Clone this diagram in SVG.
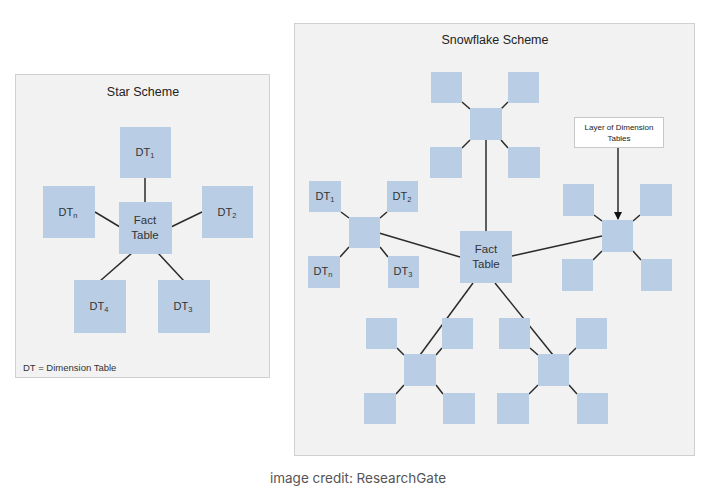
<svg xmlns="http://www.w3.org/2000/svg" width="710" height="502" viewBox="0 0 710 502">
<defs>
<style>
.panel{fill:#f2f2f2;stroke:#d0d0d0;stroke-width:1}
.box{fill:#b9cde5}
.lbl{font-family:"Liberation Sans","Open Sans",sans-serif;font-size:11px;fill:#333;text-anchor:middle}
.fact{font-size:11.5px}
.sub{font-size:7.5px}
.title{font-family:"Liberation Sans","Open Sans",sans-serif;font-size:12.5px;fill:#222;text-anchor:middle}
.cn line{stroke:#2b2b2b;stroke-width:1.5;fill:none}
</style>
<marker id="ah" markerWidth="8" markerHeight="8" refX="7" refY="4" orient="auto" markerUnits="userSpaceOnUse">
<path d="M0,0 L8,4 L0,8 z" fill="#111"/>
</marker>
</defs>
<rect width="710" height="502" fill="#ffffff"/>

<!-- Star scheme panel -->
<g id="star-panel">
<rect class="panel" x="15.5" y="74.5" width="254" height="303"/>
<text class="title" x="143" y="96">Star Scheme</text>
<text x="23" y="371" font-family="'Liberation Sans','Open Sans',sans-serif" font-size="9.5" fill="#333">DT = Dimension Table</text>
</g>

<!-- Snowflake panel -->
<g id="snow-panel">
<rect class="panel" x="294.5" y="23.5" width="400" height="432"/>
<text class="title" x="495" y="44">Snowflake Scheme</text>
</g>

<g class="cn" id="connectors">
<!-- star -->
<line x1="145" y1="178" x2="145" y2="202"/>
<line x1="95" y1="212" x2="120" y2="227"/>
<line x1="171" y1="227" x2="202" y2="212"/>
<line x1="132" y1="253" x2="100" y2="281"/>
<line x1="158" y1="253" x2="184" y2="281"/>
<!-- snowflake main -->
<line x1="486" y1="140" x2="486" y2="231"/>
<line x1="379" y1="233" x2="460" y2="257"/>
<line x1="512" y1="256" x2="602" y2="236"/>
<line x1="473" y1="283" x2="420" y2="355"/>
<line x1="495" y1="283" x2="553" y2="355"/>
<line x1="618" y1="147" x2="618" y2="219" marker-end="url(#ah)"/>
<!-- top cluster -->
<line x1="462" y1="102" x2="470" y2="109"/>
<line x1="508" y1="102" x2="501" y2="109"/>
<line x1="462" y1="148" x2="470" y2="140"/>
<line x1="508" y1="148" x2="501" y2="140"/>
<!-- left cluster -->
<line x1="341" y1="212" x2="349" y2="218"/>
<line x1="387" y1="212" x2="380" y2="218"/>
<line x1="340" y1="257" x2="349" y2="247"/>
<line x1="388" y1="257" x2="380" y2="247"/>
<!-- right cluster -->
<line x1="594" y1="215" x2="602" y2="221"/>
<line x1="640" y1="215" x2="633" y2="221"/>
<line x1="593" y1="260" x2="602" y2="251"/>
<line x1="641" y1="260" x2="633" y2="251"/>
<!-- bottom-left cluster -->
<line x1="397" y1="348" x2="404" y2="355"/>
<line x1="442" y1="348" x2="436" y2="355"/>
<line x1="396" y1="394" x2="404" y2="385"/>
<line x1="443" y1="394" x2="436" y2="385"/>
<!-- bottom-right cluster -->
<line x1="530" y1="348" x2="538" y2="355"/>
<line x1="576" y1="348" x2="569" y2="355"/>
<line x1="529" y1="394" x2="538" y2="385"/>
<line x1="577" y1="394" x2="569" y2="385"/>
</g>

<!-- Star nodes -->
<g id="star-dt1"><rect class="box" x="120" y="127" width="51" height="51"/><text class="lbl" x="145" y="156">DT<tspan class="sub" dy="2">1</tspan></text></g>
<g id="star-dtn"><rect class="box" x="43" y="186" width="52" height="52"/><text class="lbl" x="68" y="216">DT<tspan class="sub" dy="2">n</tspan></text></g>
<g id="star-fact"><rect class="box" x="119" y="202" width="53" height="52"/><text class="lbl fact" x="145" y="224">Fact</text><text class="lbl fact" x="145" y="239">Table</text></g>
<g id="star-dt2"><rect class="box" x="202" y="186" width="51" height="52"/><text class="lbl" x="227" y="216">DT<tspan class="sub" dy="2">2</tspan></text></g>
<g id="star-dt4"><rect class="box" x="74" y="280" width="52" height="53"/><text class="lbl" x="99" y="310">DT<tspan class="sub" dy="2">4</tspan></text></g>
<g id="star-dt3"><rect class="box" x="158" y="280" width="52" height="53"/><text class="lbl" x="183" y="310">DT<tspan class="sub" dy="2">3</tspan></text></g>

<!-- Snowflake nodes -->
<g id="sf-fact"><rect class="box" x="460" y="231" width="52" height="52"/><text class="lbl fact" x="486" y="253">Fact</text><text class="lbl fact" x="486" y="268">Table</text></g>

<g id="sf-top">
<rect class="box" x="431" y="72" width="31" height="31"/>
<rect class="box" x="508" y="72" width="31" height="31"/>
<rect class="box" x="470" y="108" width="32" height="32"/>
<rect class="box" x="430" y="147" width="32" height="31"/>
<rect class="box" x="508" y="147" width="32" height="31"/>
</g>

<g id="sf-left">
<rect class="box" x="309" y="181" width="32" height="31"/><text class="lbl" x="325" y="200">DT<tspan class="sub" dy="2">1</tspan></text>
<rect class="box" x="387" y="181" width="31" height="31"/><text class="lbl" x="402" y="200">DT<tspan class="sub" dy="2">2</tspan></text>
<rect class="box" x="349" y="217" width="31" height="31"/>
<rect class="box" x="308" y="256" width="32" height="32"/><text class="lbl" x="323" y="275">DT<tspan class="sub" dy="2">n</tspan></text>
<rect class="box" x="388" y="256" width="31" height="32"/><text class="lbl" x="403" y="275">DT<tspan class="sub" dy="2">3</tspan></text>
</g>

<g id="sf-right">
<rect class="box" x="563" y="184" width="31" height="32"/>
<rect class="box" x="640" y="184" width="32" height="32"/>
<rect class="box" x="602" y="220" width="31" height="32"/>
<rect class="box" x="562" y="259" width="31" height="32"/>
<rect class="box" x="641" y="259" width="31" height="32"/>
</g>

<g id="sf-bottom-left">
<rect class="box" x="366" y="318" width="31" height="31"/>
<rect class="box" x="442" y="318" width="31" height="31"/>
<rect class="box" x="404" y="354" width="32" height="32"/>
<rect class="box" x="364" y="393" width="32" height="31"/>
<rect class="box" x="443" y="393" width="32" height="31"/>
</g>

<g id="sf-bottom-right">
<rect class="box" x="499" y="318" width="31" height="31"/>
<rect class="box" x="576" y="318" width="31" height="31"/>
<rect class="box" x="538" y="354" width="31" height="32"/>
<rect class="box" x="497" y="393" width="32" height="31"/>
<rect class="box" x="577" y="393" width="31" height="31"/>
</g>

<g id="callout">
<rect x="574.5" y="117.5" width="89" height="30" fill="#ffffff" stroke="#c8c8c8" stroke-width="1"/>
<text x="619" y="130" font-family="'Liberation Sans','Open Sans',sans-serif" font-size="8" fill="#222" text-anchor="middle">Layer of Dimension</text>
<text x="619" y="141" font-family="'Liberation Sans','Open Sans',sans-serif" font-size="8" fill="#222" text-anchor="middle">Tables</text>
</g>

<text x="358" y="483" font-family="Inter,'Liberation Sans',sans-serif" font-size="13.5" fill="#555" text-anchor="middle">image credit: ResearchGate</text>
</svg>
